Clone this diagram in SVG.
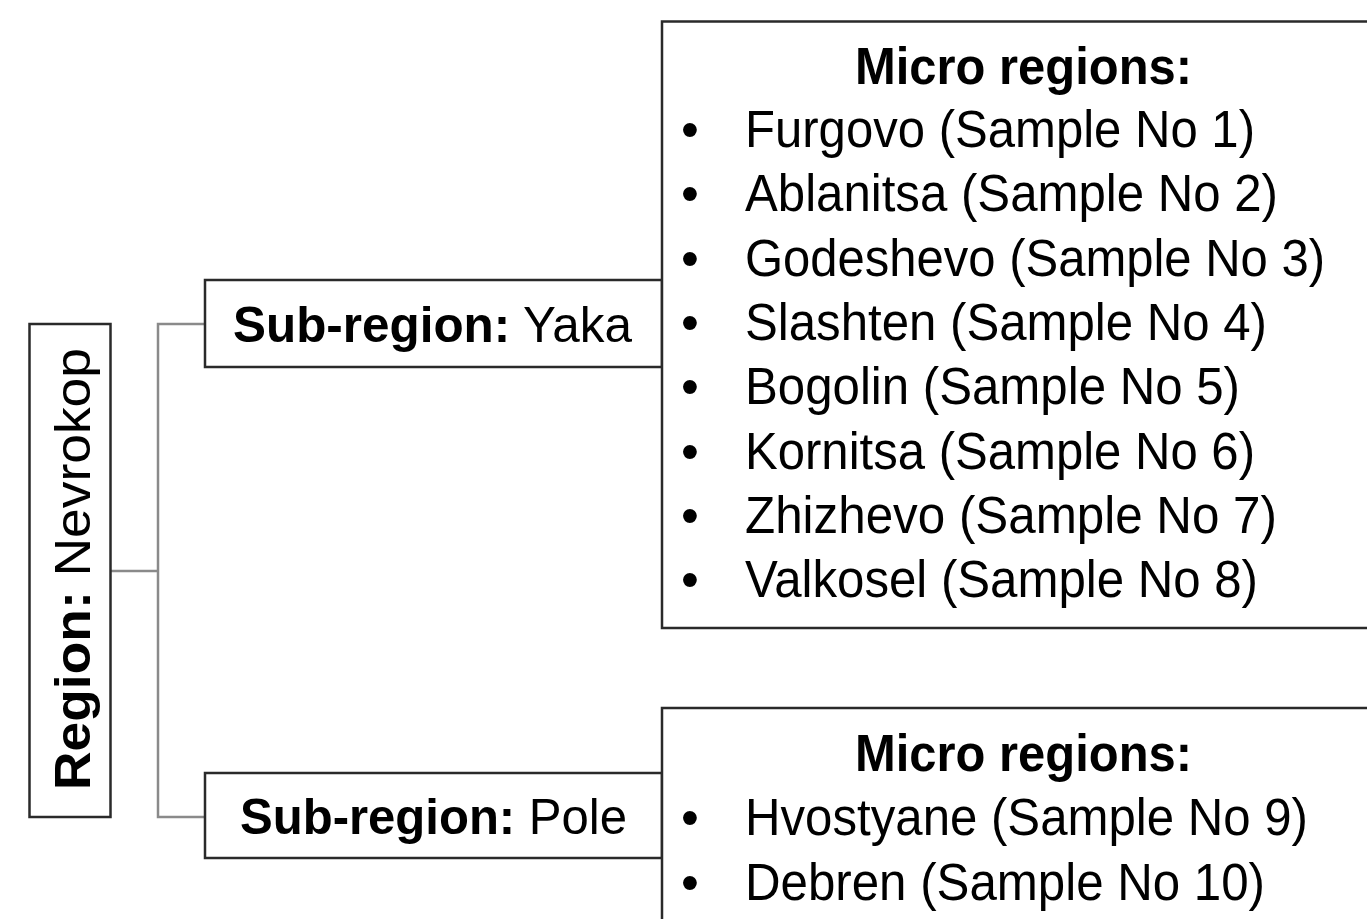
<svg xmlns="http://www.w3.org/2000/svg" width="1367" height="919" viewBox="0 0 1367 919">
<style>
  .box { fill: #ffffff; stroke: #2a2a2a; stroke-width: 2.5; }
  .openbox { fill: #ffffff; stroke: #2a2a2a; stroke-width: 2.5; }
  .conn { fill: none; stroke: #8a8a8a; stroke-width: 2.5; }
  text { font-family: "Liberation Sans", Arial, sans-serif; fill: #000000; }
  .item { font-size: 51px; }
  .hdr { font-size: 52px; font-weight: bold; }
  .lbl { font-size: 50px; }
  .b { font-weight: bold; }
</style>
<rect width="1367" height="919" fill="#ffffff"/>
<g id="connectors">
  <polyline class="conn" points="111,571 158,571"/>
  <polyline class="conn" points="205,324 158,324 158,817 205,817"/>
</g>
<g id="region">
  <rect class="box" x="29.5" y="324" width="81" height="493"/>
  <text class="lbl" transform="translate(90,569) rotate(-90)" text-anchor="middle" textLength="442" lengthAdjust="spacingAndGlyphs"><tspan class="b">Region:</tspan> Nevrokop</text>
</g>
<g id="subregion-yaka">
  <rect class="box" x="205" y="280" width="457" height="87"/>
  <text class="lbl" x="233" y="342" textLength="399" lengthAdjust="spacingAndGlyphs"><tspan class="b">Sub-region:</tspan> Yaka</text>
</g>
<g id="subregion-pole">
  <rect class="box" x="205" y="773" width="457" height="85"/>
  <text class="lbl" x="240" y="834" textLength="387" lengthAdjust="spacingAndGlyphs"><tspan class="b">Sub-region:</tspan> Pole</text>
</g>
<g id="micro-yaka">
  <path class="openbox" d="M1367,21.5 H662 V628 H1367"/>
  <text class="hdr" x="855" y="84" textLength="337" lengthAdjust="spacingAndGlyphs">Micro regions:</text>
  <text class="item" x="690" y="147" text-anchor="middle">•</text>
  <text class="item" x="745" y="147" textLength="510" lengthAdjust="spacingAndGlyphs">Furgovo (Sample No 1)</text>
  <text class="item" x="690" y="211" text-anchor="middle">•</text>
  <text class="item" x="745" y="211" textLength="533" lengthAdjust="spacingAndGlyphs">Ablanitsa (Sample No 2)</text>
  <text class="item" x="690" y="276" text-anchor="middle">•</text>
  <text class="item" x="745" y="276" textLength="580" lengthAdjust="spacingAndGlyphs">Godeshevo (Sample No 3)</text>
  <text class="item" x="690" y="340" text-anchor="middle">•</text>
  <text class="item" x="745" y="340" textLength="522" lengthAdjust="spacingAndGlyphs">Slashten (Sample No 4)</text>
  <text class="item" x="690" y="404" text-anchor="middle">•</text>
  <text class="item" x="745" y="404" textLength="495" lengthAdjust="spacingAndGlyphs">Bogolin (Sample No 5)</text>
  <text class="item" x="690" y="469" text-anchor="middle">•</text>
  <text class="item" x="745" y="469" textLength="510" lengthAdjust="spacingAndGlyphs">Kornitsa (Sample No 6)</text>
  <text class="item" x="690" y="533" text-anchor="middle">•</text>
  <text class="item" x="745" y="533" textLength="532" lengthAdjust="spacingAndGlyphs">Zhizhevo (Sample No 7)</text>
  <text class="item" x="690" y="597" text-anchor="middle">•</text>
  <text class="item" x="745" y="597" textLength="513" lengthAdjust="spacingAndGlyphs">Valkosel (Sample No 8)</text>
</g>
<g id="micro-pole">
  <path class="openbox" d="M1367,708 H662 V919"/>
  <text class="hdr" x="855" y="771" textLength="337" lengthAdjust="spacingAndGlyphs">Micro regions:</text>
  <text class="item" x="690" y="835" text-anchor="middle">•</text>
  <text class="item" x="745" y="835" textLength="563" lengthAdjust="spacingAndGlyphs">Hvostyane (Sample No 9)</text>
  <text class="item" x="690" y="900" text-anchor="middle">•</text>
  <text class="item" x="745" y="900" textLength="520" lengthAdjust="spacingAndGlyphs">Debren (Sample No 10)</text>
</g>
</svg>
